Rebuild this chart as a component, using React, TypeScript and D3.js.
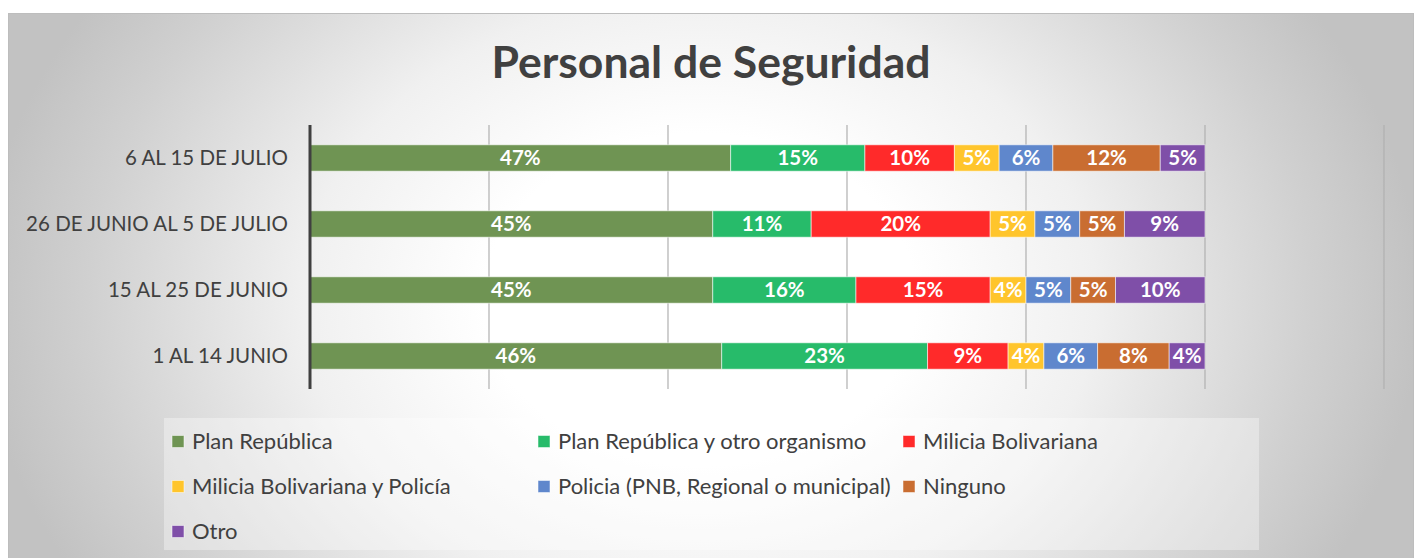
import React from "react";
import * as d3 from "d3";

const categories = ["1 AL 14 JUNIO", "15 AL 25 DE JUNIO", "26 DE JUNIO AL 5 DE JULIO", "6 AL 15 DE JULIO"];
const seriesNames = [
  "Plan República",
  "Plan República y otro organismo",
  "Milicia Bolivariana",
  "Milicia Bolivariana y Policía",
  "Policia (PNB, Regional o municipal)",
  "Ninguno",
  "Otro",
];
const planRepublica = [46, 45, 45, 47];
const planRepublicaOtro = [23, 16, 11, 15];
const miliciaBolivariana = [9, 15, 20, 10];
const miliciaPolicia = [4, 4, 5, 5];
const policia = [6, 5, 5, 6];
const ninguno = [8, 5, 5, 12];
const otro = [4, 10, 9, 5];
const seriesValues = [planRepublica, planRepublicaOtro, miliciaBolivariana, miliciaPolicia, policia, ninguno, otro];
const colors = ["#6F9453", "#27BB6A", "#FF2A2A", "#FFC52C", "#5F87CC", "#C96D31", "#7F4FA8"];
const gridTicks = [0.2, 0.4, 0.6, 0.8, 1.0, 1.2];
const title = "Personal de Seguridad";

const W = 1418;
const H = 558;
const FONT = "Lato, 'Open Sans', sans-serif";
const TEXT = "#404040";

export default function App() {
  const x = d3.scaleLinear().domain([0, 1.2]).range([310, 1384]);
  const y = d3
    .scaleBand<string>()
    .domain([...categories].reverse())
    .range([125, 389])
    .paddingInner(0.6)
    .paddingOuter(0.3);

  const rows = categories.map((c, ci) => {
    const obj: any = { cat: c };
    seriesNames.forEach((s, si) => (obj[s] = seriesValues[si][ci] / 100));
    return obj;
  });
  const stacked = d3.stack<any>().keys(seriesNames)(rows);

  const legendCols = [172, 538, 903];
  const legendRows = [441, 486, 531];

  return (
    <svg width={W} height={H} style={{ position: "absolute", left: 0, top: 0 }} fontFamily={FONT}>
      <defs>
        <radialGradient
          id="bg"
          gradientUnits="userSpaceOnUse"
          cx={700}
          cy={300}
          r={720}
          gradientTransform="translate(700,300) scale(1,0.77) translate(-700,-300)"
        >
          <stop offset="0" stopColor="#ffffff" />
          <stop offset="0.3" stopColor="#ffffff" />
          <stop offset="0.55" stopColor="#f0f0f0" />
          <stop offset="0.7" stopColor="#e0e0e0" />
          <stop offset="0.85" stopColor="#d0d0d0" />
          <stop offset="1" stopColor="#c2c2c2" />
        </radialGradient>
      </defs>
      <rect x={0} y={0} width={W} height={H} fill="#ffffff" />
      <rect x={8.5} y={13.5} width={1405} height={570} fill="url(#bg)" stroke="#bdbdbd" strokeWidth={1} />

      <text x={711} y={78} textAnchor="middle" fontSize={44.5} fontWeight="bold" fill={TEXT}>
        {title}
      </text>

      {gridTicks.map((t) => (
        <line key={t} x1={x(t)} x2={x(t)} y1={125} y2={389} stroke="#b0b0b0" strokeWidth={1.2} />
      ))}

      {stacked.map((layer, si) => (
        <g key={seriesNames[si]}>
          {layer.map((d, ci) => {
            const cat = categories[ci];
            const x0 = x(d[0]);
            const x1 = x(d[1]);
            const yy = y(cat)!;
            return (
              <g key={cat}>
                <rect
                  x={x0}
                  y={yy}
                  width={x1 - x0}
                  height={y.bandwidth()}
                  fill={colors[si]}
                  stroke="rgba(255,255,255,0.55)"
                  strokeWidth={1}
                />
                <text
                  x={(x0 + x1) / 2}
                  y={yy + y.bandwidth() / 2}
                  dy="0.36em"
                  textAnchor="middle"
                  fontSize={20.5}
                  fontWeight="bold"
                  fill="#ffffff"
                >
                  {Math.round((d[1] - d[0]) * 100)}%
                </text>
              </g>
            );
          })}
        </g>
      ))}

      <line x1={310} x2={310} y1={125} y2={389} stroke="#404040" strokeWidth={3} />

      {categories.map((c) => (
        <text
          key={c}
          x={288}
          y={y(c)! + y.bandwidth() / 2}
          dy="0.36em"
          textAnchor="end"
          fontSize={20.5}
          fill={TEXT}
        >
          {c}
        </text>
      ))}

      <rect x={164} y={418} width={1095} height={132} fill="rgba(255,255,255,0.35)" />
      {seriesNames.map((s, i) => {
        const col = i % 3;
        const row = Math.floor(i / 3);
        const lx = legendCols[col];
        const ly = legendRows[row];
        return (
          <g key={s}>
            <rect x={lx} y={ly - 5.5} width={12} height={12} fill={colors[i]} stroke="rgba(255,255,255,0.5)" strokeWidth={1} />
            <text x={lx + 20} y={ly} dy="0.36em" fontSize={22} fill={TEXT}>
              {s}
            </text>
          </g>
        );
      })}
    </svg>
  );
}
